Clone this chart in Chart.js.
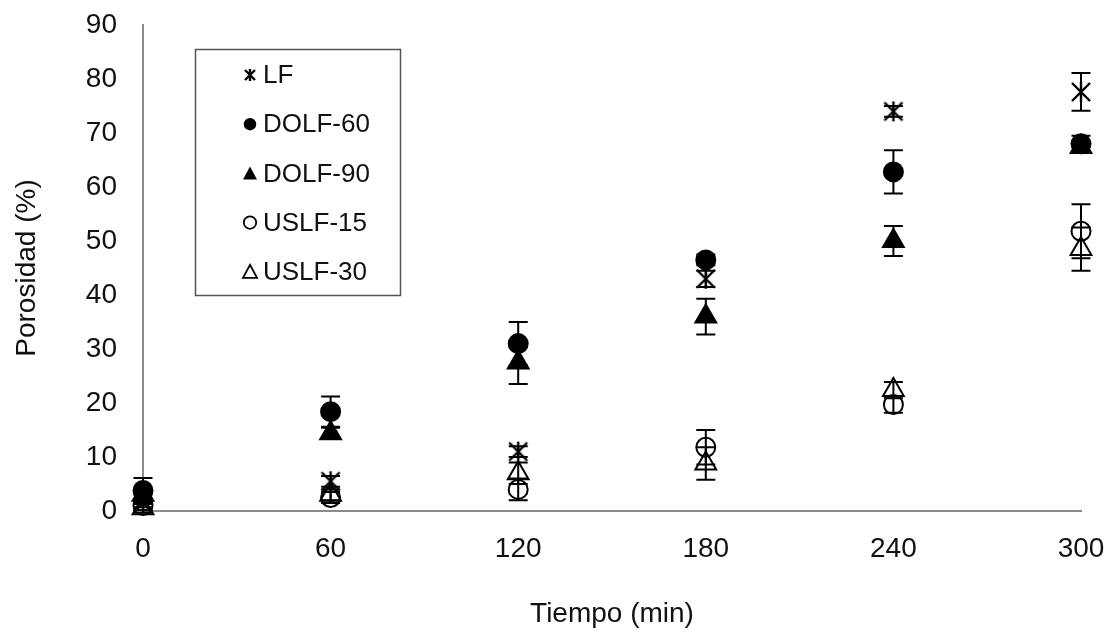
<!DOCTYPE html>
<html>
<head>
<meta charset="utf-8">
<script src="https://cdn.jsdelivr.net/npm/chart.js@4.4.0/dist/chart.umd.min.js"></script>
<style>
  html, body { margin: 0; padding: 0; background: #fff; }
  #wrap { width: 1112px; height: 635px; }
</style>
</head>
<body>
<div id="wrap"><canvas id="chart-porosidad"></canvas></div>
<script>
// data (Porosidad % vs Tiempo min)
const tiempo = [0, 60, 120, 180, 240, 300];
const xTicks = [0, 60, 120, 180, 240, 300];
const yTicks = [0, 10, 20, 30, 40, 50, 60, 70, 80, 90];

const lf        = [1.5, 5.5, 11, 43, 74, 77.6];
const lfErr     = [0.8, 1, 1, 1.5, 1, 3.5];
const dolf60    = [3.8, 18.4, 31, 46.5, 62.8, 68];
const dolf60Err = [2.3, 2.8, 4, 1, 4, 1.5];
const dolf90    = [3, 14.4, 27.5, 36, 50, 67.4];
const dolf90Err = [1, 1, 4, 3.3, 2.8, 1];
const uslf15    = [1, 2.5, 4, 11.8, 19.7, 51.8];
const uslf15Err = [0.8, 1, 2, 3.2, 1.5, 5];
const uslf30    = [0.5, 3, 7, 8.8, 22.4, 48.5];
const uslf30Err = [0.8, 1, 2, 3, 1.5, 4];

const FONT = "'Liberation Sans', Arial, sans-serif";
const TXT = '#111';

// excel-like star marker: an X with a vertical bar
function makeStar(size, lw) {
  var c = document.createElement('canvas');
  c.width = size; c.height = size;
  var g = c.getContext('2d');
  g.strokeStyle = '#000';
  g.lineWidth = lw;
  var a = 2, b = size - 2, m = size / 2;
  g.beginPath();
  g.moveTo(a, a); g.lineTo(b, b);
  g.moveTo(b, a); g.lineTo(a, b);
  g.moveTo(m, a - 1); g.lineTo(m, b + 1);
  g.stroke();
  return c;
}
const starBig = makeStar(22, 2.4);
const starSmall = makeStar(14, 2.4);

function pts(vals) {
  return vals.map(function (v, i) { return { x: tiempo[i], y: v }; });
}

// error bars drawn from the scales
const errorBars = {
  id: 'errorBars',
  afterDatasetsDraw(chart) {
    var ctx = chart.ctx, xs = chart.scales.x, ys = chart.scales.y;
    ctx.save();
    ctx.strokeStyle = '#000';
    ctx.lineWidth = 2;
    chart.data.datasets.forEach(function (ds) {
      ds.data.forEach(function (p, j) {
        var e = ds.errors[j];
        var px = xs.getPixelForValue(p.x);
        var top = ys.getPixelForValue(p.y + e);
        var bot = ys.getPixelForValue(p.y - e);
        ctx.beginPath();
        ctx.moveTo(px, top); ctx.lineTo(px, bot);
        ctx.moveTo(px - 9.5, top); ctx.lineTo(px + 9.5, top);
        ctx.moveTo(px - 9.5, bot); ctx.lineTo(px + 9.5, bot);
        ctx.stroke();
      });
    });
    ctx.restore();
  }
};

// boxed legend inside the plot
const boxLegend = {
  id: 'boxLegend',
  afterDraw(chart) {
    var ctx = chart.ctx;
    ctx.save();
    ctx.strokeStyle = '#555';
    ctx.lineWidth = 1.5;
    ctx.strokeRect(195.5, 49.5, 205, 246);
    ctx.font = '26px ' + FONT;
    ctx.textBaseline = 'middle';
    chart.data.datasets.forEach(function (ds, i) {
      var y = 75 + i * 49.2, x = 250;
      ctx.fillStyle = '#000';
      ctx.strokeStyle = '#000';
      ctx.lineWidth = 1.8;
      if (ds.pointStyle === 'circle') {
        ctx.beginPath();
        ctx.arc(x, y, 6.2, 0, Math.PI * 2);
        if (ds.filled) ctx.fill(); else ctx.stroke();
      } else if (ds.pointStyle === 'triangle') {
        ctx.beginPath();
        ctx.moveTo(x, y - 7);
        ctx.lineTo(x + 7, y + 6);
        ctx.lineTo(x - 7, y + 6);
        ctx.closePath();
        if (ds.filled) ctx.fill(); else ctx.stroke();
      } else {
        ctx.drawImage(starSmall, x - 7, y - 7);
      }
      ctx.fillStyle = TXT;
      ctx.fillText(ds.label, 263, y + 1);
    });
    ctx.restore();
  }
};

function series(label, vals, errs, style, filled, radius) {
  return {
    label: label,
    data: pts(vals),
    errors: errs,
    pointStyle: style,
    filled: filled,
    pointRadius: radius,
    pointHoverRadius: radius,
    pointBorderWidth: 2,
    pointBorderColor: '#000',
    pointBackgroundColor: filled ? '#000' : 'rgba(0,0,0,0)',
    showLine: false,
    clip: false
  };
}

new Chart(document.getElementById('chart-porosidad').getContext('2d'), {
  type: 'scatter',
  data: {
    datasets: [
      series('LF', lf, lfErr, starBig, false, 11),
      series('DOLF-60', dolf60, dolf60Err, 'circle', true, 9.5),
      series('DOLF-90', dolf90, dolf90Err, 'triangle', true, 12),
      series('USLF-15', uslf15, uslf15Err, 'circle', false, 9.5),
      series('USLF-30', uslf30, uslf30Err, 'triangle', false, 12)
    ]
  },
  options: {
    responsive: true,
    maintainAspectRatio: false,
    animation: false,
    layout: { padding: { top: 25, right: 31, left: 0, bottom: 0 } },
    plugins: {
      legend: { display: false },
      tooltip: { enabled: false }
    },
    scales: {
      x: {
        type: 'linear',
        min: 0,
        max: 300,
        afterBuildTicks: function (s) { s.ticks = xTicks.map(function (v) { return { value: v }; }); },
        afterFit: function (s) { s.height = 124; s.paddingLeft = 0; s.paddingRight = 0; },
        grid: { display: false, drawTicks: false },
        border: { color: '#8c8c8c', width: 2 },
        ticks: { padding: 21, color: TXT, font: { family: FONT, size: 28 } },
        title: {
          display: true,
          text: 'Tiempo (min)',
          color: TXT,
          font: { family: FONT, size: 28 },
          padding: { top: 0, bottom: 4 }
        }
      },
      y: {
        min: 0,
        max: 90,
        afterBuildTicks: function (s) { s.ticks = yTicks.map(function (v) { return { value: v }; }); },
        afterFit: function (s) { s.width = 143; s.paddingTop = 0; s.paddingBottom = 0; },
        grid: { display: false, drawTicks: false },
        border: { color: '#8c8c8c', width: 2 },
        ticks: { padding: 26, color: TXT, font: { family: FONT, size: 28 } },
        title: {
          display: true,
          text: 'Porosidad (%)',
          color: TXT,
          font: { family: FONT, size: 28 },
          padding: { top: 10, bottom: 0 }
        }
      }
    }
  },
  plugins: [errorBars, boxLegend]
});
</script>
</body>
</html>
